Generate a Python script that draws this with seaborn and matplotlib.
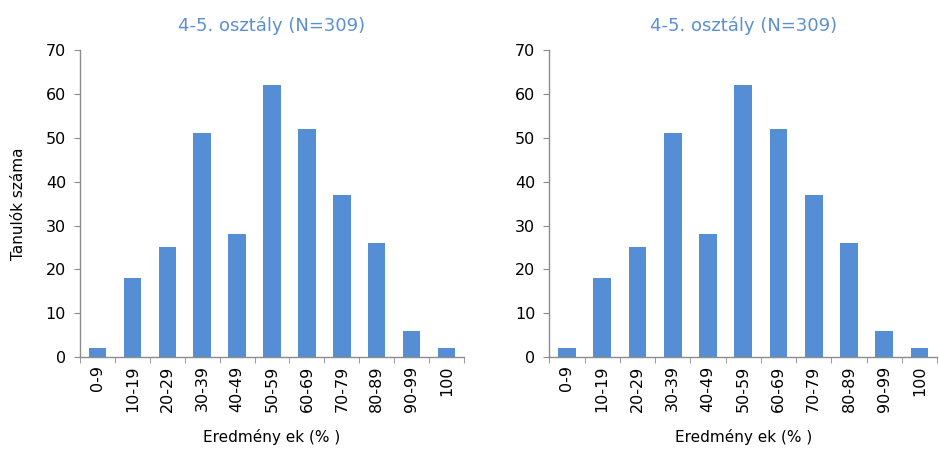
import numpy as np
import pandas as pd
import matplotlib
matplotlib.use('Agg')
import matplotlib.pyplot as plt
import seaborn as sns

categories = ['0-9', '10-19', '20-29', '30-39', '40-49', '50-59', '60-69', '70-79', '80-89', '90-99', '100']
counts = [2, 18, 25, 51, 28, 62, 52, 37, 26, 6, 2]
title = '4-5. osztály (N=309)'
xlabel = 'Eredmény ek (% )'
ylabel = 'Tanulók száma'

bar_color = '#558ed5'
title_color = '#5b8fd0'
axis_color = '#8c8c8c'

sns.set_style('white')
plt.rcParams['font.family'] = ['DejaVu Sans']
plt.rcParams['text.color'] = 'black'
plt.rcParams['xtick.labelcolor'] = 'black'
plt.rcParams['ytick.labelcolor'] = 'black'
plt.rcParams['axes.labelcolor'] = 'black'

df = pd.DataFrame({'cat': categories, 'n': counts})

fig = plt.figure(figsize=(9.39, 4.59), dpi=100)
ax1 = fig.add_axes([0.0852, 0.222, 0.409, 0.669])
ax2 = fig.add_axes([0.585, 0.222, 0.413, 0.669])

for i, ax in enumerate([ax1, ax2]):
    sns.barplot(data=df, x='cat', y='n', color=bar_color, width=0.5, saturation=1,
                linewidth=0, ax=ax)
    ax.set_ylim(0, 70)
    ax.set_xlim(-0.5, len(categories) - 0.5)
    ax.set_yticks(range(0, 71, 10))
    ax.tick_params(axis='y', labelsize=11.5, length=4, color=axis_color, left=True, pad=6)
    ax.tick_params(axis='x', which='major', length=0, labelsize=11.5, rotation=90, pad=6)
    ax.set_xticks(np.arange(-0.5, len(categories), 1), minor=True)
    ax.tick_params(axis='x', which='minor', length=4, color=axis_color, bottom=True)
    for s in ['top', 'right']:
        ax.spines[s].set_visible(False)
    for s in ['left', 'bottom']:
        ax.spines[s].set_color(axis_color)
        ax.spines[s].set_linewidth(1)
    ax.set_title(title, color=title_color, fontsize=13, pad=14)
    ax.set_xlabel(xlabel, fontsize=11, labelpad=12)
    ax.set_ylabel(ylabel if i == 0 else '', fontsize=11, labelpad=14)

fig.savefig('out.png', dpi=100)
